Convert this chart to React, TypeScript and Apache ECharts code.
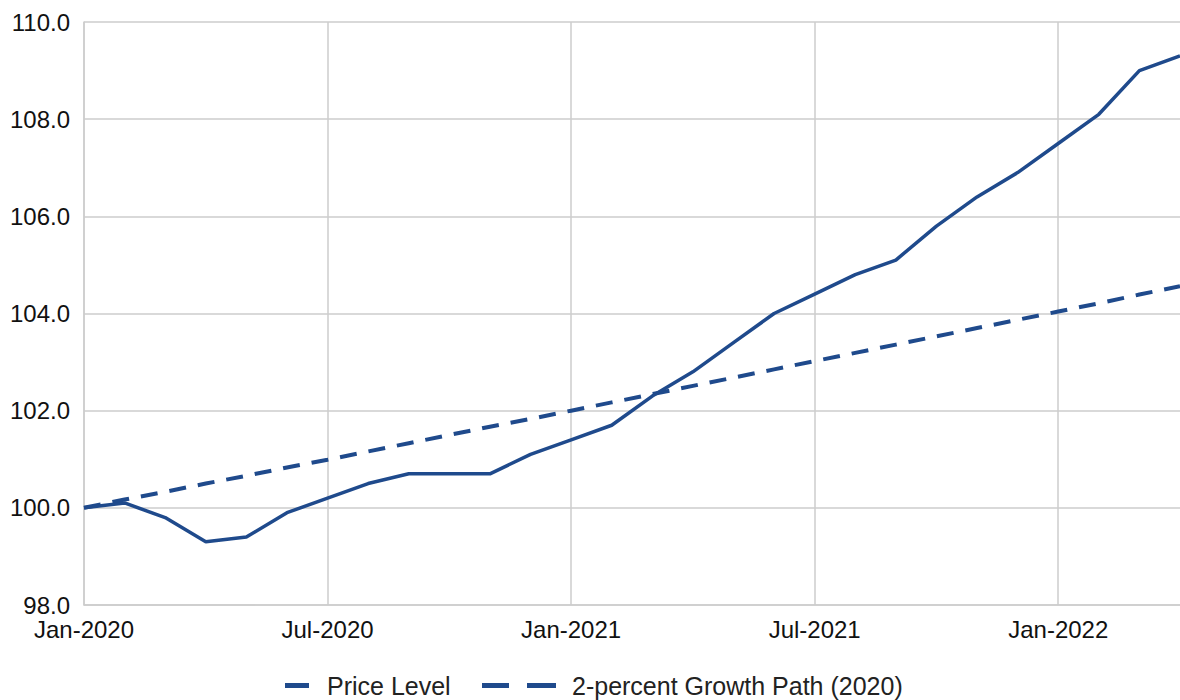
import React, { useEffect, useRef } from "react";
import * as echarts from "echarts";

const months = [
  "Jan-2020", "Feb-2020", "Mar-2020", "Apr-2020", "May-2020", "Jun-2020",
  "Jul-2020", "Aug-2020", "Sep-2020", "Oct-2020", "Nov-2020", "Dec-2020",
  "Jan-2021", "Feb-2021", "Mar-2021", "Apr-2021", "May-2021", "Jun-2021",
  "Jul-2021", "Aug-2021", "Sep-2021", "Oct-2021", "Nov-2021", "Dec-2021",
  "Jan-2022", "Feb-2022", "Mar-2022", "Apr-2022",
];

const priceLevel = [
  100.0, 100.1, 99.8, 99.3, 99.4, 99.9,
  100.2, 100.5, 100.7, 100.7, 100.7, 101.1,
  101.4, 101.7, 102.3, 102.8, 103.4, 104.0,
  104.4, 104.8, 105.1, 105.8, 106.4, 106.9,
  107.5, 108.1, 109.0, 109.3,
];

const growthPath = [
  100.0, 100.17, 100.33, 100.5, 100.66, 100.83,
  100.99, 101.16, 101.33, 101.5, 101.67, 101.83,
  102.0, 102.17, 102.34, 102.51, 102.68, 102.85,
  103.02, 103.19, 103.36, 103.53, 103.7, 103.87,
  104.04, 104.21, 104.39, 104.56,
];

const seriesNames = ["Price Level", "2-percent Growth Path (2020)"];

const BLUE = "#1f4a8c";
const GRID = "#cccccc";
const FONT = "'Liberation Sans', Arial, sans-serif";

export default function App() {
  const ref = useRef<HTMLDivElement>(null);

  useEffect(() => {
    if (!ref.current) return;
    const chart = echarts.init(ref.current, null, { renderer: "svg" });
    chart.setOption({
      animation: false,
      backgroundColor: "#ffffff",
      textStyle: { fontFamily: FONT },
      grid: { left: 84, right: 0, top: 22, bottom: 95, containLabel: false },
      legend: [
        {
          data: [{ name: seriesNames[0], icon: "rect" }],
          left: 280,
          top: 668,
          itemWidth: 24,
          itemHeight: 5,
          itemStyle: { color: BLUE, borderWidth: 0 },
          textStyle: { fontSize: 25, color: "#222222", fontFamily: FONT, padding: [0, 0, 0, 13] },
        },
        {
          data: [{ name: seriesNames[1], icon: "path://M0,0H27V5H0Z M45,0H74V5H45Z" }],
          left: 477,
          top: 668,
          itemWidth: 74,
          itemHeight: 5,
          itemStyle: { color: BLUE, borderWidth: 0 },
          textStyle: { fontSize: 25, color: "#222222", fontFamily: FONT, padding: [0, 0, 0, 11] },
        },
      ],
      xAxis: {
        type: "category",
        data: months,
        boundaryGap: false,
        axisLine: { show: true, lineStyle: { color: GRID, width: 1.5 } },
        axisTick: { show: false },
        axisLabel: {
          interval: 5,
          fontSize: 24,
          color: "#111111",
          margin: 12,
          fontFamily: FONT,
        },
        splitLine: { show: true, interval: 5, lineStyle: { color: GRID, width: 1.5 } },
      },
      yAxis: {
        type: "value",
        min: 98,
        max: 110,
        interval: 2,
        axisLine: { show: true, lineStyle: { color: GRID, width: 1.5 } },
        axisTick: { show: false },
        axisLabel: {
          fontSize: 24,
          color: "#111111",
          margin: 14,
          fontFamily: FONT,
          formatter: (v: number) => v.toFixed(1),
        },
        splitLine: { show: true, lineStyle: { color: GRID, width: 1.5 } },
      },
      series: [
        {
          name: seriesNames[0],
          type: "line",
          data: priceLevel,
          symbol: "none",
          color: BLUE,
          lineStyle: { color: BLUE, width: 3.5 },
          z: 3,
        },
        {
          name: seriesNames[1],
          type: "line",
          data: growthPath,
          symbol: "none",
          color: BLUE,
          lineStyle: { color: BLUE, width: 4, type: [17, 12] },
          z: 2,
        },
      ],
    });
    return () => chart.dispose();
  }, []);

  return (
    <div
      ref={ref}
      style={{ position: "fixed", left: 0, top: 0, width: 1180, height: 700, background: "#fff" }}
    />
  );
}
